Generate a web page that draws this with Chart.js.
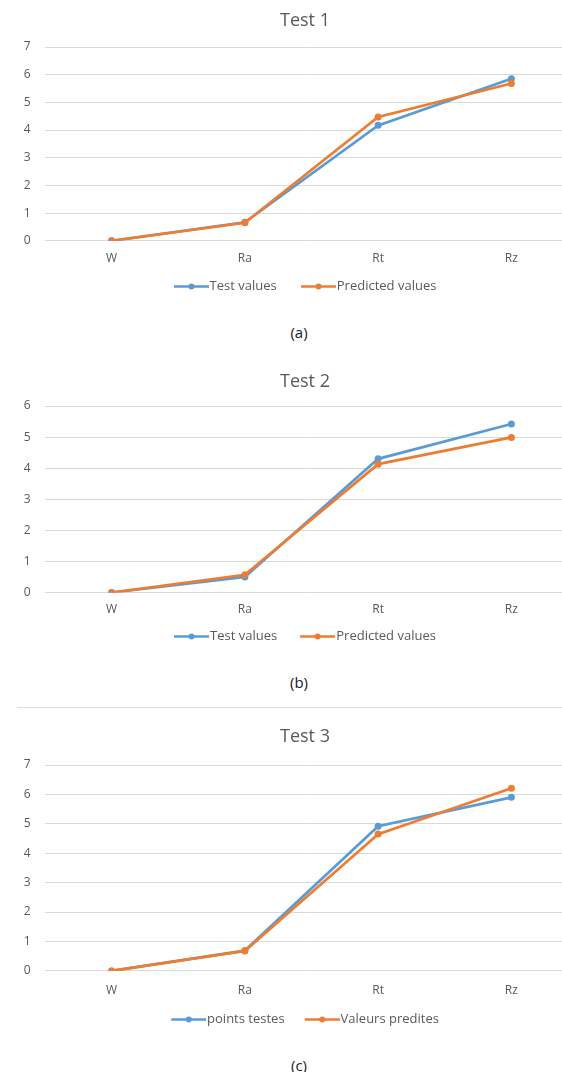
<!DOCTYPE html>
<html>
<head>
<meta charset="utf-8">
<title>Test 1 / Test 2 / Test 3</title>
<script src="https://cdn.jsdelivr.net/npm/chart.js@4/dist/chart.umd.min.js"></script>
<style>
  html, body { margin: 0; padding: 0; background: #ffffff; width: 562px; height: 1072px; overflow: hidden; }
  #page { position: relative; width: 562px; height: 1072px; overflow: hidden; }
  #page canvas { position: absolute; left: 0; }
  .caption { position: absolute; left: 0; width: 598px; height: 20px; line-height: 20px; text-align: center;
             font-family: 'Open Sans', sans-serif; font-size: 15px; color: #1a1a1a; }
  .rule { position: absolute; left: 17px; width: 560px; height: 1px; background: #dcdcdc; }
</style>
</head>
<body>
<div id="page">
  <canvas id="chart1"></canvas>
  <div class="caption" id="cap1"></div>
  <canvas id="chart2"></canvas>
  <div class="caption" id="cap2"></div>
  <div class="rule" style="top:707px"></div>
  <canvas id="chart3"></canvas>
  <div class="caption" id="cap3"></div>
</div>
<script>
// Categories and measured values for the three tests
const categories = ['W', 'Ra', 'Rt', 'Rz'];
const titles = ['Test 1', 'Test 2', 'Test 3'];
const captions = ['(a)', '(b)', '(c)'];

const seriesNames1 = ['Test values', 'Predicted values'];
const seriesNames2 = ['Test values', 'Predicted values'];
const seriesNames3 = ['points testes', 'Valeurs predites'];

const testValues1 = [0, 0.67, 4.17, 5.85];
const predictedValues1 = [0, 0.65, 4.47, 5.68];

const testValues2 = [0, 0.5, 4.3, 5.42];
const predictedValues2 = [0, 0.57, 4.13, 4.99];

const testValues3 = [0, 0.69, 4.92, 5.9];
const predictedValues3 = [0, 0.68, 4.65, 6.21];

const yTicks1 = [0, 1, 2, 3, 4, 5, 6, 7];
const yTicks2 = [0, 1, 2, 3, 4, 5, 6];
const yTicks3 = [0, 1, 2, 3, 4, 5, 6, 7];

const BLUE = '#5B9BD5';
const ORANGE = '#ED7D31';
const TEXT = '#595959';
const GRID = '#d9d9d9';

Chart.defaults.font.family = "'Open Sans', sans-serif";

const LEGEND_FONT = 13;
const GLYPH_LINE = 35;   // length of the legend line

// Legend glyph: a short line with a round marker, drawn at the right end of
// a wider transparent image so the line sits right before the label text
function legendGlyph(color, width) {
  const c = document.createElement('canvas');
  c.width = Math.round(width); c.height = 9;
  const g = c.getContext('2d');
  const x1 = c.width, x0 = x1 - GLYPH_LINE;
  g.strokeStyle = color; g.lineWidth = 2.5;
  g.beginPath(); g.moveTo(x0, 4.5); g.lineTo(x1, 4.5); g.stroke();
  g.fillStyle = color;
  g.beginPath(); g.arc(x0 + GLYPH_LINE / 2, 4.5, 3, 0, Math.PI * 2); g.fill();
  return c;
}

// Vertical placement of each panel (page pixels)
const panels = [
  { id: 'chart1', cap: 'cap1', top: 0,   titleY: 21,  gridTop: 47,  zeroY: 241,   labelY: 258.3, legendY: 286.7, capY: 332, itemGap: 24,
    title: titles[0], caption: captions[0], names: seriesNames1, test: testValues1, pred: predictedValues1, ticks: yTicks1 },
  { id: 'chart2', cap: 'cap2', top: 355, titleY: 382, gridTop: 406, zeroY: 592.7, labelY: 610,   legendY: 636.7, capY: 681.7, itemGap: 23,
    title: titles[1], caption: captions[1], names: seriesNames2, test: testValues2, pred: predictedValues2, ticks: yTicks2 },
  { id: 'chart3', cap: 'cap3', top: 712, titleY: 737, gridTop: 765, zeroY: 970.7, labelY: 990,   legendY: 1019.3, capY: 1065, itemGap: 20,
    title: titles[2], caption: captions[2], names: seriesNames3, test: testValues3, pred: predictedValues3, ticks: yTicks3 }
];

function lineDataset(label, data, color, order) {
  return {
    label, data, order,
    borderColor: color, backgroundColor: color,
    pointBackgroundColor: color, pointBorderColor: color,
    borderWidth: 2.7, pointRadius: 3.5, pointBorderWidth: 0,
    tension: 0, fill: false
  };
}

function drawPanel(p) {
  const canvas = document.getElementById(p.id);
  const tickSize = 12;
  const titleSize = 18, titleLine = titleSize * 1.2;

  // x axis box must contain its labels; the legend follows right below it
  const xAxisHeight = p.labelY - p.zeroY + 9;
  const legendTop = p.zeroY + xAxisHeight;
  const legendPad = p.legendY - LEGEND_FONT / 2 - legendTop;
  const boxW = GLYPH_LINE + p.itemGap - LEGEND_FONT / 2 + 1 - legendPad;
  const glyphW = boxW + LEGEND_FONT - 2;
  // the glyph's transparent lead-in; recentre the visible legend row
  const leadIn = boxW / 2 + glyphW / 2 - GLYPH_LINE;
  const legendShift = leadIn / 2;

  const height = Math.round(legendTop + LEGEND_FONT + legendPad + 10 - p.top);
  canvas.width = 610;
  canvas.height = height;
  canvas.style.top = p.top + 'px';

  const cap = document.getElementById(p.cap);
  cap.textContent = p.caption;
  cap.style.top = (p.capY - 10) + 'px';

  new Chart(canvas, {
    type: 'line',
    data: {
      labels: categories,
      datasets: [
        lineDataset(p.names[0], p.test, BLUE, 1),
        lineDataset(p.names[1], p.pred, ORANGE, 0)
      ]
    },
    options: {
      responsive: false,
      animation: false,
      events: [],
      layout: { padding: 0 },
      scales: {
        x: {
          type: 'category',
          offset: true,
          grid: { display: false, drawTicks: false },
          border: { display: false },
          ticks: { color: TEXT, font: { size: tickSize }, padding: p.labelY - p.zeroY - tickSize * 0.6 },
          afterFit: s => { s.height = xAxisHeight; }
        },
        y: {
          min: p.ticks[0],
          max: p.ticks[p.ticks.length - 1],
          grid: { color: GRID, lineWidth: 1, drawTicks: false },
          border: { display: false },
          ticks: { color: TEXT, font: { size: tickSize }, padding: 14.5 },
          afterBuildTicks: s => { s.ticks = p.ticks.map(v => ({ value: v })); },
          afterFit: s => { s.width = 45; }
        },
        yRight: {
          position: 'right',
          grid: { display: false, drawTicks: false },
          border: { display: false },
          ticks: { display: false },
          afterFit: s => { s.width = 32; }
        }
      },
      plugins: {
        title: {
          display: true,
          text: p.title,
          color: TEXT,
          font: { size: titleSize, weight: 'normal' },
          padding: { top: p.titleY - p.top - titleLine / 2, bottom: p.gridTop - p.titleY - titleLine / 2 }
        },
        legend: {
          position: 'bottom',
          labels: {
            usePointStyle: true,
            pointStyleWidth: boxW,
            boxHeight: LEGEND_FONT,
            padding: legendPad,
            color: TEXT,
            font: { size: LEGEND_FONT },
            generateLabels(chart) {
              const items = Chart.defaults.plugins.legend.labels.generateLabels(chart);
              items.sort((a, b) => a.datasetIndex - b.datasetIndex);
              items.forEach(it => {
                it.pointStyle = legendGlyph(chart.data.datasets[it.datasetIndex].borderColor, glyphW);
              });
              return items;
            }
          }
        },
        tooltip: { enabled: false }
      }
    },
    plugins: [{
      id: 'legendRecentre',
      afterLayout(chart) {
        if (chart.legend) {
          chart.legend.left -= legendShift;
          chart.legend.right -= legendShift;
        }
      }
    }]
  });
}

panels.forEach(drawPanel);
</script>
</body>
</html>
